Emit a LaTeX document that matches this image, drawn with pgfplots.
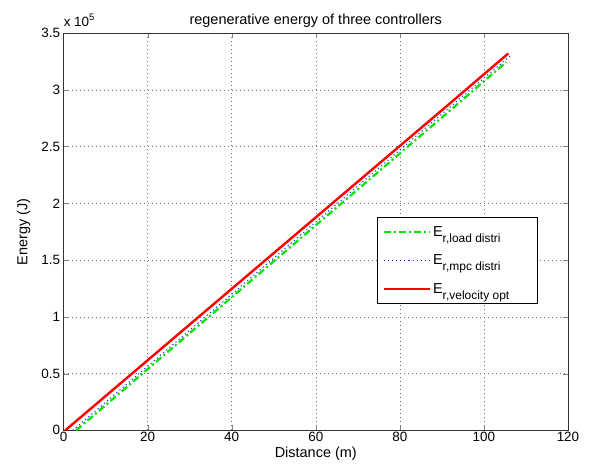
\documentclass[border=0pt]{standalone}
\usepackage{pgfplots}
\pgfplotsset{compat=1.18}
\usepackage{fontspec}
\setmainfont{Liberation Sans}
\newcommand{\fa}{\fontsize{13.5}{15}\selectfont}
\newcommand{\fb}{\fontsize{14.5}{16}\selectfont}
\newcommand{\Esub}[1]{E\raisebox{-6bp}{\fontsize{12}{13}\selectfont #1}}

\begin{document}
\begin{tikzpicture}[x=1bp,y=1bp]
\begin{axis}[
  scale only axis,
  width=504bp, height=397bp,
  xmin=0, xmax=120, ymin=0, ymax=3.5,
  xtick={0,20,...,120},
  ytick={0,0.5,...,3.5},
  /pgf/number format/assume math mode=true,
  tick label style={font=\fa},
  xticklabel style={yshift=2bp},
  tick align=inside,
  major tick length=5bp,
  xmajorgrids, ymajorgrids,
  grid style={black!55, dash pattern=on 1bp off 3bp},
  axis line style={black!80},
  title={regenerative energy of three controllers},
  title style={font=\fb, at={(axis description cs:0.5,1)}, anchor=base, yshift=3bp},
  xlabel={Distance (m)},
  ylabel={Energy (J)},
  xlabel style={font=\fb, at={(axis description cs:0.5,0)}, anchor=base, yshift=-27bp},
  ylabel style={font=\fb, yshift=4bp},
  clip mode=individual,
  legend style={at={(0.622,0.537)}, anchor=north west, draw=black, line width=0.7bp,
    font=\fb, row sep=13bp, inner xsep=5bp, inner ysep=7bp, legend cell align=left},
  legend image code/.code={\draw[#1] (2bp,0bp) -- (48bp,0bp);},
]
\addplot[color={rgb,255:red,0;green,230;blue,0}, line width=2.2bp, dash pattern=on 7bp off 3bp on 2bp off 3bp]
  coordinates {(3.0,0) (30,0.856) (60,1.806) (90,2.756) (105.3,3.244)};
\addlegendentry{\Esub{r,load distri}}
\addplot[color={rgb,255:red,40;green,40;blue,255}, line width=1.1bp, dash pattern=on 1.1bp off 3bp]
  coordinates {(2.2,0) (30,0.882) (60,1.835) (90,2.787) (106.2,3.298)};
\addlegendentry{\Esub{r,mpc distri}}
\addplot[red, line width=2.4bp]
  coordinates {(0.4,0) (30,0.932) (60,1.876) (90,2.820) (105.8,3.320)};
\addlegendentry{\Esub{r,velocity opt}\hspace*{21bp}}
\node[anchor=base west, inner sep=0pt, font=\fa] at ([yshift=7bp]rel axis cs:0,1) {x 10\textsuperscript{5}};
\end{axis}
\pgfresetboundingbox
\path (current axis.south west) ++(-63.5bp,-40bp) coordinate (bl);
\path (current axis.north east) ++(23bp,33bp) coordinate (tr);
\useasboundingbox (bl) rectangle (tr);
\end{tikzpicture}
\end{document}
